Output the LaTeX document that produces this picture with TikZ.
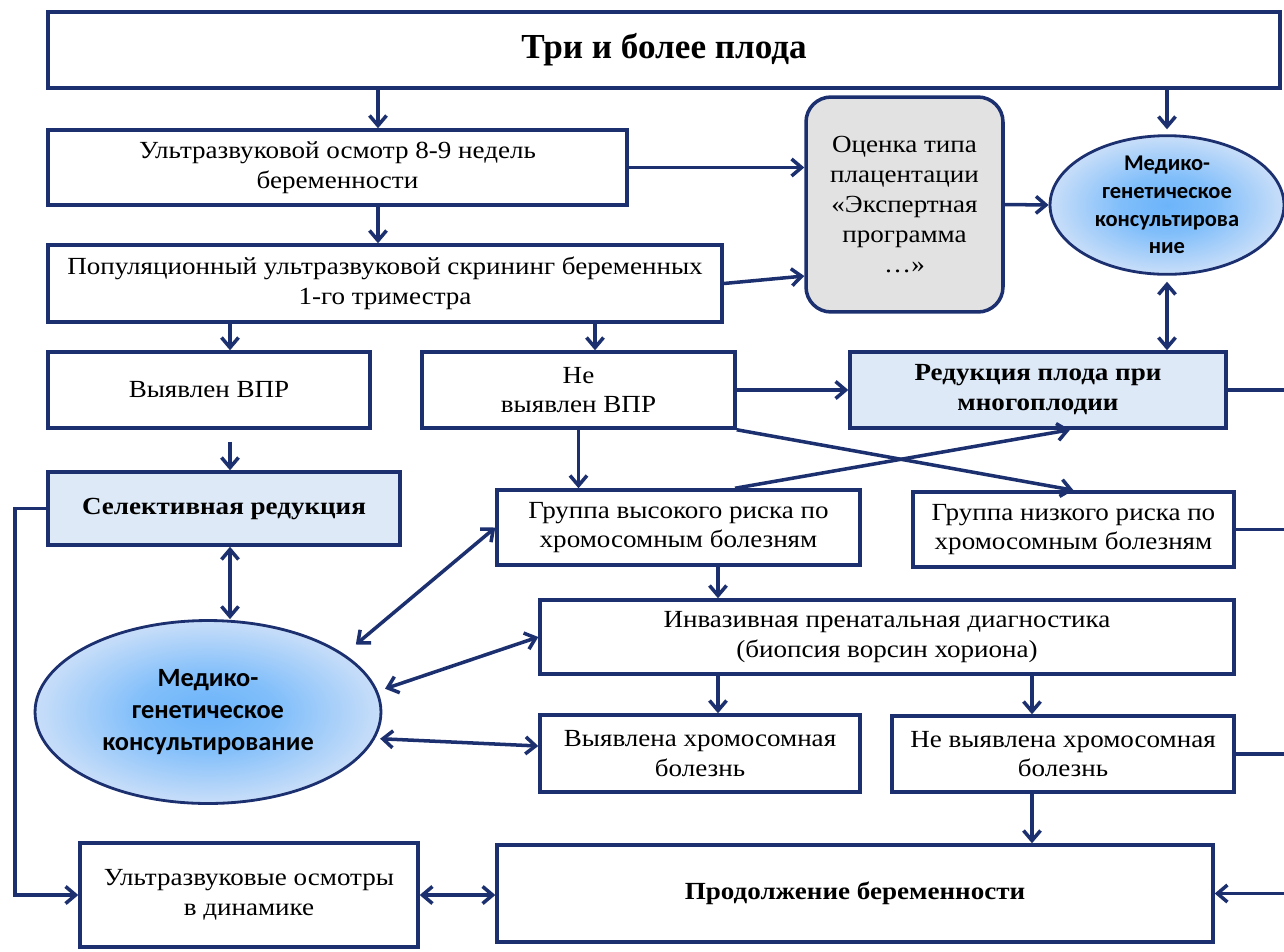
\documentclass[tikz,border=0pt]{standalone}
\usepackage{fontspec}
\setmainfont{Liberation Serif}[FakeStretch=1.1]
\newfontfamily\titlefont{Liberation Serif}
\newfontfamily\ellfont{Carlito}
\usetikzlibrary{arrows.meta,shapes.geometric}
\definecolor{navy}{RGB}{28,48,112}
\definecolor{boxblue}{RGB}{221,233,247}
\definecolor{ocgray}{RGB}{226,226,226}
\definecolor{ellA}{RGB}{108,180,250}
\definecolor{ellB}{RGB}{128,190,250}
\definecolor{ellC}{RGB}{196,220,249}
\definecolor{ellD}{RGB}{234,236,250}
\definecolor{ellE}{RGB}{242,242,251}
\pgfdeclareradialshading{ellsh}{\pgfpoint{0bp}{0bp}}{color(0bp)=(ellA); color(10bp)=(ellB); color(24bp)=(ellC); color(36bp)=(ellD); color(50bp)=(ellE)}
\tikzset{
  box/.style={draw=navy, line width=2pt, fill=white, inner sep=0pt, align=center,
    font=\fontsize{14}{17}\selectfont},
  bluebox/.style={box, fill=boxblue, font=\bfseries\fontsize{14}{17}\selectfont},
  ocbox/.style={box, fill=ocgray, rounded corners=0.5cm},
  ellnode/.style={ellipse, draw=navy, line width=1.6pt, shading=ellsh, inner sep=0pt, align=center},
  con/.style={draw=navy, line width=2pt},
  arr/.style={con, -{Straight Barb[length=2mm,width=3.4mm]}},
  darr/.style={con, {Straight Barb[length=2mm,width=3.4mm]}-{Straight Barb[length=2mm,width=3.4mm]}}
}
\begin{document}
\begin{tikzpicture}[x=0.02cm,y=-0.02cm]
\useasboundingbox (0,0) rectangle (1284,951);
\fill[white] (0,0) rectangle (1284,951);
% nodes
\node[box, minimum width=24.64cm, minimum height=1.52cm, font=\titlefont\bfseries\fontsize{20}{24}\selectfont] (top) at (664,50) {Три и более плода};
\node[box, minimum width=11.58cm, minimum height=1.5cm] (u1) at (337.5,167.5) {Ультразвуковой осмотр 8-9 недель\\беременности};
\node[box, minimum width=13.48cm, minimum height=1.54cm] (p1) at (385,283.5) {Популяционный ультразвуковой скрининг беременных\\1-го триместра};
\node[ocbox, minimum width=3.94cm, minimum height=4.3cm] (oc) at (904.5,204.5) {Оценка типа\\плацентации\\«Экспертная\\программа\\…»};
\node[ellnode, minimum width=4.68cm, minimum height=2.72cm, font=\ellfont\bfseries\fontsize{12.8}{15.8}\selectfont] (e1) at (1167,205) {Медико-\\генетическое\\консультирова\\ние};
\node[bluebox, minimum width=7.52cm, minimum height=1.52cm] (red) at (1038,390) {Редукция плода при\\многоплодии};
\node[box, minimum width=6.44cm, minimum height=1.52cm] (vpr) at (209,390) {Выявлен ВПР};
\node[box, minimum width=6.26cm, minimum height=1.52cm] (ne) at (578.5,390) {Не\\выявлен ВПР};
\node[bluebox, minimum width=7.04cm, minimum height=1.46cm] (sel) at (224,508.5) {Селективная редукция};
\node[ellnode, minimum width=6.92cm, minimum height=3.66cm, font=\ellfont\bfseries\fontsize{15}{18}\selectfont] (e2) at (208,712) {Медико-\\генетическое\\консультирование};
\node[box, minimum width=7.26cm, minimum height=1.5cm] (gv) at (678.5,527.5) {Группа высокого риска по\\хромосомным болезням};
\node[box, minimum width=6.42cm, minimum height=1.5cm] (gn) at (1073.5,529.5) {Группа низкого риска по\\хромосомным болезням};
\node[box, minimum width=13.88cm, minimum height=1.48cm] (inv) at (887,637) {Инвазивная пренатальная диагностика\\(биопсия ворсин хориона)};
\node[box, minimum width=6.4cm, minimum height=1.54cm] (vx) at (700,753.5) {Выявлена хромосомная\\болезнь};
\node[box, minimum width=6.84cm, minimum height=1.52cm] (nvx) at (1063,754) {Не выявлена хромосомная\\болезнь};
\node[box, minimum width=14.32cm, minimum height=1.94cm, font=\bfseries\fontsize{14}{17}\selectfont] (prod) at (855,893.5) {Продолжение беременности};
\node[box, minimum width=6.76cm, minimum height=2.08cm] (uzd) at (249,895) {Ультразвуковые осмотры\\в динамике};
% helper coordinates
\coordinate (x230) at (230,0);
\coordinate (x378) at (378,0);
\coordinate (x595) at (595,0);
\coordinate (x718) at (718,0);
\coordinate (x735) at (735,0);
\coordinate (x1032) at (1032,0);
\coordinate (x1070) at (1070,0);
\coordinate (y276) at (0,276);
\coordinate (y746) at (0,746);
\coordinate (redge) at (1284,0);
\coordinate (cl) at (15,895);
% connectors
\draw[arr] (top.south -| x378) -- (u1.north -| x378);
\draw[arr, shorten >=0.1cm] (top.south -| e1.north) -- (e1.north);
\draw[arr] (u1.south -| x378) -- (p1.north -| x378);
\draw[arr] (u1.east) -- (oc.west |- u1.east);
\draw[arr] (p1.east) -- (oc.west |- y276);
\draw[arr] (oc.east) -- (e1.west);
\draw[darr, shorten <=0.12cm] (e1.south) -- (red.north -| e1.south);
\draw[con] (red.east) -- (red.east -| redge);
\draw[arr] (p1.south -| x230) -- (vpr.north -| x230);
\draw[arr] (p1.south -| x595) -- (ne.north -| x595);
\draw[arr] (ne.east) -- (red.west |- ne.east);
\draw[arr, shorten <=0.24cm] (vpr.south -| x230) -- (sel.north -| x230);
\draw[arr] (sel.west) -| (cl) -- (uzd.west |- cl);
\draw[darr] (sel.south -| x230) -- (e2.north -| x230);
\draw[arr] (ne.south) -- (gv.north -| ne.south);
\draw[arr] (ne.south east) -- (gn.north);
\draw[arr] (gv.north -| x735) -- (red.south -| x1070);
\draw[darr, shorten <=0.3cm] (e2.23) -- (gv.west);
\draw[darr, shorten <=0.15cm] (e2.7) -- (inv.west);
\draw[darr, shorten <=0.1cm] (e2.-9) -- (vx.west |- y746);
\draw[arr] (gv.south -| x718) -- (inv.north -| x718);
\draw[arr] (inv.south -| x718) -- (vx.north -| x718);
\draw[arr] (inv.south -| x1032) -- (nvx.north -| x1032);
\draw[con] (gn.east) -- (gn.east -| redge);
\draw[con] (nvx.east) -- (nvx.east -| redge);
\draw[arr] (nvx.south -| x1032) -- (prod.north -| x1032);
\draw[arr] (prod.east -| redge) -- (prod.east);
\draw[darr] (uzd.east) -- (prod.west |- uzd.east);
\end{tikzpicture}
\end{document}
